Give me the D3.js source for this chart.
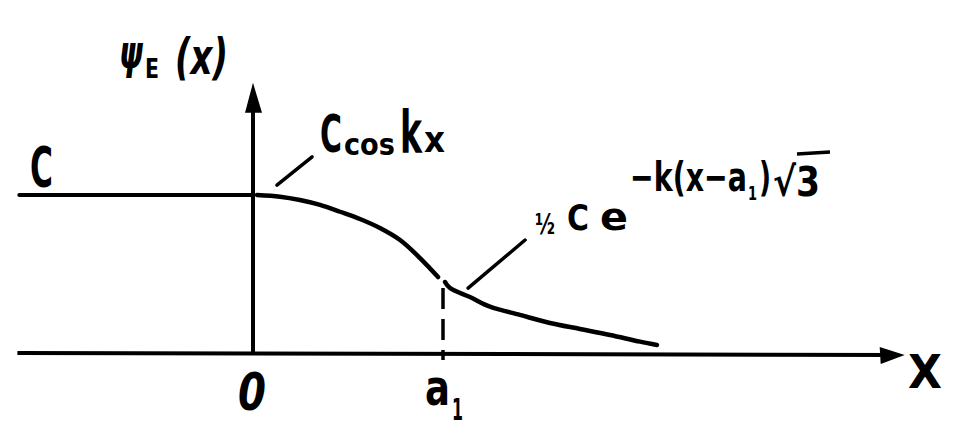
<!DOCTYPE html>
<html><head><meta charset="utf-8">
<script src="https://cdn.jsdelivr.net/npm/d3@7"></script>
<style>html,body{margin:0;padding:0;background:#fff;}svg{display:block;}</style>
</head><body>
<svg id="c" width="976" height="443"></svg>
<script>
// ---- data (x in units of a1, y in units of C) ----
const flatX = [-1.23, 0.0];
const flatY = [1.0, 1.0];
const cosX = [0.021, 0.142, 0.247, 0.353, 0.458, 0.563, 0.668, 0.774, 0.879, 0.974];
const cosY = [1.000, 0.989, 0.968, 0.937, 0.894, 0.848, 0.791, 0.715, 0.601, 0.481];
const expX = [1.011, 1.037, 1.142, 1.247, 1.405, 1.563, 1.721, 1.879, 2.037, 2.126];
const expY = [0.449, 0.411, 0.354, 0.293, 0.241, 0.190, 0.152, 0.114, 0.072, 0.051];
const a1 = 1;
const xAxisRange = [-1.24, 3.43];
const yAxisRange = [0, 1.71];
const tickLabels = [{v: 0, t: "0"}, {v: a1, t: "a", sub: "1"}];
const leaderCos = [[0.126, 1.063], [0.311, 1.241]];
const leaderExp = [[1.132, 0.411], [1.432, 0.715]];

const svg = d3.select("#c");
const xs = d3.scaleLinear().domain([0, 1]).range([253, 443]);
const ys = d3.scaleLinear().domain([0, 1]).range([353, 195]);
const ink = "#000";
const font = "'DejaVu Sans', sans-serif";

// axes
svg.append("line").attr("x1", xs(xAxisRange[0])).attr("x2", xs(xAxisRange[1]) - 10)
  .attr("y1", ys(0)).attr("y2", ys(0) + 2).attr("stroke", ink).attr("stroke-width", 4);
svg.append("line").attr("x1", xs(0)).attr("x2", xs(0))
  .attr("y1", ys(0)).attr("y2", ys(yAxisRange[1]) + 12).attr("stroke", ink).attr("stroke-width", 4);
// arrowheads
const xt = [xs(xAxisRange[1]), ys(0) + 2];
svg.append("path").attr("d", `M${xt[0]},${xt[1]} L${xt[0]-25},${xt[1]-8} L${xt[0]-24},${xt[1]+9} Z`).attr("fill", ink);
const yt = [xs(0), ys(yAxisRange[1])];
svg.append("path").attr("d", `M${yt[0]},${yt[1]} L${yt[0]-8},${yt[1]+30} L${yt[0]+9},${yt[1]+30} Z`).attr("fill", ink);

// curves
const line = d3.line().x(d => xs(d[0])).y(d => ys(d[1])).curve(d3.curveCatmullRom);
const draw = (X, Y, w) => svg.append("path").attr("d", line(X.map((x, i) => [x, Y[i]])))
  .attr("fill", "none").attr("stroke", ink).attr("stroke-width", w).attr("stroke-linecap", "round");
draw(flatX, flatY, 4);
draw(cosX, cosY, 4.5);
draw(expX, expY, 4.5);

// dashed a1 line
svg.append("line").attr("x1", xs(a1)).attr("x2", xs(a1))
  .attr("y1", ys(expY[0]) + 6).attr("y2", ys(0) + 7)
  .attr("stroke", ink).attr("stroke-width", 3.5).attr("stroke-dasharray", "21,10");

// leaders
[leaderCos, leaderExp].forEach(L => svg.append("line")
  .attr("x1", xs(L[0][0])).attr("y1", ys(L[0][1])).attr("x2", xs(L[1][0])).attr("y2", ys(L[1][1]))
  .attr("stroke", ink).attr("stroke-width", 3.5).attr("stroke-linecap", "round"));

// text piece: drawn at natural size, squeezed horizontally to the wanted width
function piece(t, x, y, size, w, italic) {
  const e = svg.append("text").attr("x", 0).attr("y", 0).attr("font-family", font)
    .attr("font-weight", "bold").attr("font-size", size).attr("fill", ink).text(t);
  if (italic) e.attr("font-style", "italic");
  const nat = e.node().getComputedTextLength() || w;
  e.attr("transform", `translate(${x},${y}) scale(${(w / nat).toFixed(4)},1)`);
  return e;
}
// y-axis title  psi_E(x)
piece("ψ", 119, 68, 46, 24, true);
piece("E", 145, 78, 27, 14);
piece("(x)", 175, 74, 50, 53, true);
// C at left
piece("C", 30, 186, 55, 23);
// C cos kx
piece("C", 320, 152, 51, 22);
piece("cos", 344, 155, 31, 51);
piece("k", 400, 153, 59, 22);
piece("x", 424, 152, 35, 21);
// 1/2
piece("½", 535, 234, 28, 20);
// C e^{-k(x-a1)/sqrt3}
piece("C", 567, 230, 36, 22);
piece("e", 600, 230, 38, 28);
piece("−k(x−a", 630, 191, 40, 117);
piece("1", 748, 200, 20, 9);
piece(")", 759, 191, 40, 12);
piece("√3", 773, 196, 40, 47);
svg.append("line").attr("x1", 797).attr("x2", 830).attr("y1", 154).attr("y2", 152)
  .attr("stroke", ink).attr("stroke-width", 3.5);

// tick labels
tickLabels.forEach(d => {
  const x = xs(d.v);
  if (!d.sub) piece(d.t, x - 15, 410, 51, 28, true);
  else { piece(d.t, x - 18, 405, 50, 25); piece(d.sub, x + 9, 420, 30, 11); }
});
// X
piece("X", 908, 388, 47, 34);
</script>
</body></html>
